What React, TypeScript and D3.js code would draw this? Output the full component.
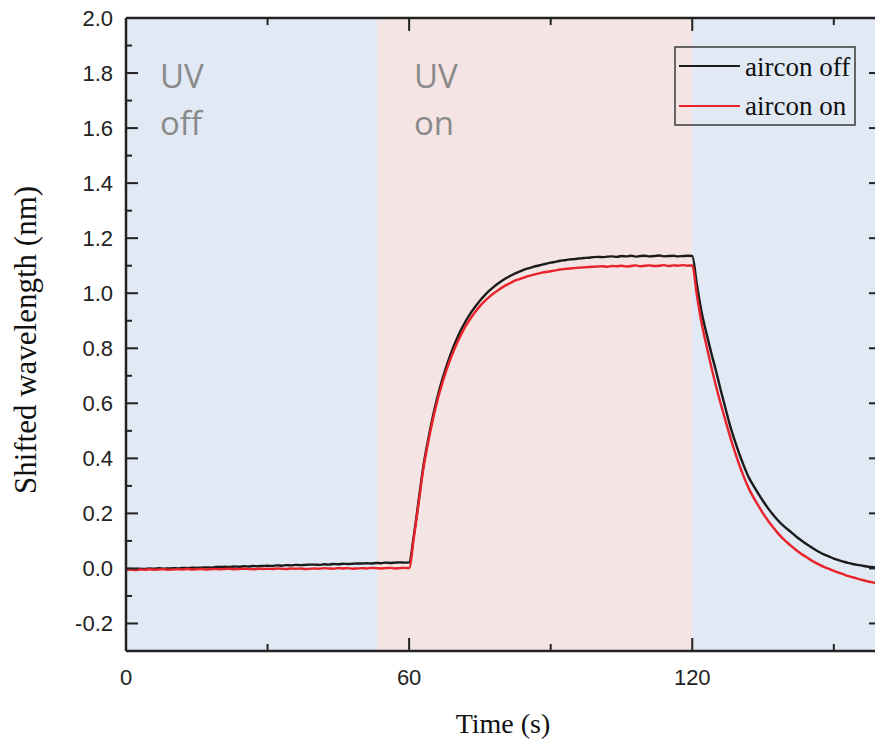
import React from "react";
import * as d3 from "d3";

// Sample times (s), one reading per second
const timeSec: number[] = d3.range(0, 161);

// Shifted wavelength (nm), aircon off
const airconOff: number[] = [
  -0.003, -0.002, -0.003, -0.001, -0.002, 0.0, -0.001, 0.001, -0.001, 0.0,
  0.001, 0.0, 0.002, 0.001, 0.003, 0.002, 0.003, 0.004, 0.003, 0.005,
  0.005, 0.006, 0.005, 0.007, 0.006, 0.008, 0.007, 0.009, 0.008, 0.009,
  0.01, 0.009, 0.011, 0.01, 0.012, 0.011, 0.013, 0.012, 0.013, 0.014,
  0.014, 0.013, 0.015, 0.014, 0.016, 0.015, 0.017, 0.016, 0.017, 0.018,
  0.018, 0.019, 0.018, 0.02, 0.019, 0.021, 0.02, 0.021, 0.022, 0.021,
  0.022,
  0.12, 0.245, 0.37, 0.465, 0.55, 0.623, 0.685, 0.74, 0.788, 0.83,
  0.867, 0.899, 0.927, 0.951, 0.973, 0.992, 1.009, 1.024, 1.037, 1.049,
  1.059, 1.068, 1.076, 1.083, 1.089, 1.094, 1.099, 1.103, 1.107, 1.111,
  1.114, 1.118, 1.12, 1.123, 1.124, 1.126, 1.128, 1.129, 1.131, 1.132,
  1.131, 1.133, 1.134, 1.132, 1.135, 1.134, 1.136, 1.133, 1.135, 1.136,
  1.134, 1.135, 1.137, 1.134, 1.135, 1.136, 1.134, 1.135, 1.136, 1.135,
  1.03, 0.93, 0.855, 0.785, 0.72, 0.65, 0.585, 0.52, 0.465, 0.415,
  0.37, 0.33, 0.3, 0.272, 0.245, 0.22, 0.198, 0.178, 0.16, 0.145,
  0.131, 0.116, 0.103, 0.091, 0.08, 0.069, 0.059, 0.05, 0.043, 0.036,
  0.03, 0.025, 0.02, 0.016, 0.013, 0.01, 0.007, 0.005, 0.003, 0.002,
];

// Shifted wavelength (nm), aircon on
const airconOn: number[] = [
  -0.005, -0.004, -0.006, -0.004, -0.005, -0.003, -0.005, -0.004, -0.003, -0.005,
  -0.004, -0.003, -0.004, -0.002, -0.004, -0.003, -0.002, -0.004, -0.003, -0.002,
  -0.003, -0.002, -0.001, -0.003, -0.002, -0.001, -0.002, -0.003, -0.001, -0.002,
  -0.001, -0.002, 0.0, -0.001, -0.002, 0.0, -0.001, 0.0, -0.002, -0.001,
  0.0, -0.001, 0.001, 0.0, -0.001, 0.001, 0.0, 0.001, -0.001, 0.0,
  0.001, 0.0, 0.002, 0.001, 0.0, 0.001, 0.002, 0.0, 0.001, 0.002,
  0.001,
  0.11, 0.235, 0.36, 0.455, 0.538, 0.61, 0.671, 0.725, 0.772, 0.813,
  0.849, 0.881, 0.908, 0.932, 0.953, 0.971, 0.987, 1.001, 1.013, 1.024,
  1.033, 1.042, 1.049, 1.055, 1.061, 1.066, 1.07, 1.074, 1.077, 1.08,
  1.083, 1.086, 1.088, 1.09, 1.091, 1.093, 1.094, 1.095, 1.096, 1.097,
  1.098, 1.096, 1.099, 1.098, 1.1, 1.097, 1.099, 1.101, 1.098, 1.1,
  1.101, 1.099, 1.1, 1.102, 1.099, 1.101, 1.1, 1.102, 1.1, 1.101,
  0.99, 0.89, 0.81, 0.735, 0.665, 0.6, 0.54, 0.48, 0.425, 0.375,
  0.33, 0.29, 0.257, 0.228, 0.2, 0.175, 0.152, 0.131, 0.112, 0.096,
  0.081, 0.067, 0.054, 0.043, 0.032, 0.022, 0.013, 0.005, -0.002, -0.009,
  -0.015, -0.021, -0.027, -0.032, -0.037, -0.042, -0.046, -0.05, -0.053, -0.056,
];

// Axis ticks
const xMajorTicks: number[] = [0, 60, 120];
const xTickLabels: string[] = ["0", "60", "120"];
const xMinorTicks: number[] = [30, 90, 150];
const yMajorTicks: number[] = [-0.2, 0.0, 0.2, 0.4, 0.6, 0.8, 1.0, 1.2, 1.4, 1.6, 1.8, 2.0];
const yTickLabels: string[] = ["-0.2", "0.0", "0.2", "0.4", "0.6", "0.8", "1.0", "1.2", "1.4", "1.6", "1.8", "2.0"];
const yMinorTicks: number[] = [-0.1, 0.1, 0.3, 0.5, 0.7, 0.9, 1.1, 1.3, 1.5, 1.7, 1.9];

// UV exposure phases (s)
const phaseStarts: number[] = [0, 53.2, 120];
const phaseEnds: number[] = [53.2, 120, 160];
const phaseUvOn: boolean[] = [false, true, false];

const seriesNames: string[] = ["aircon off", "aircon on"];
const seriesColors: string[] = ["#1b1b1b", "#e8232a"];

const W = 875;
const H = 743;
const left = 126;
const right = 881;
const top = 18;
const bottom = 651;

export default function App() {
  const x = d3.scaleLinear().domain([0, 160]).range([left, right]);
  const y = d3.scaleLinear().domain([-0.3, 2.0]).range([bottom, top]);

  const line = d3
    .line<number>()
    .x((_, i) => x(timeSec[i]))
    .y((d) => y(d))
    .curve(d3.curveMonotoneX);

  const axisColor = "#222";
  const sans = "'Liberation Sans', Arial, sans-serif";
  const serif = "'Liberation Serif', 'Times New Roman', serif";
  const uvFont = "'Open Sans', 'Noto Sans', sans-serif";

  return (
    <svg
      width={W}
      height={H}
      style={{ position: "absolute", left: 0, top: 0, background: "#fff" }}
    >
      <defs>
        <clipPath id="plot-area">
          <rect x={left} y={top} width={right - left} height={bottom - top} />
        </clipPath>
      </defs>

      {/* phase backgrounds */}
      {phaseStarts.map((s, i) => (
        <rect
          key={`ph${i}`}
          x={x(s)}
          y={top}
          width={x(phaseEnds[i]) - x(s)}
          height={bottom - top}
          fill={phaseUvOn[i] ? "#f5e4e4" : "#e1e9f4"}
        />
      ))}

      {/* phase annotations */}
      <g fill="#8a8a8a" fontFamily={uvFont} fontSize={33}>
        <text x={160} y={88}>UV</text>
        <text x={160} y={135}>off</text>
        <text x={414} y={88}>UV</text>
        <text x={414} y={135}>on</text>
      </g>

      {/* series */}
      <g clipPath="url(#plot-area)" fill="none" strokeWidth={2.4} strokeLinejoin="round">
        <path d={line(airconOff) ?? ""} stroke={seriesColors[0]} />
        <path d={line(airconOn) ?? ""} stroke={seriesColors[1]} />
      </g>

      {/* frame */}
      <g stroke={axisColor} strokeWidth={2.5} fill="none">
        <line x1={left} y1={top} x2={left} y2={bottom} />
        <line x1={left} y1={bottom} x2={right} y2={bottom} />
        <line x1={left} y1={top} x2={right} y2={top} />
        <line x1={right} y1={top} x2={right} y2={bottom} />
      </g>

      {/* ticks */}
      <g stroke={axisColor} strokeWidth={2}>
        {xMajorTicks.map((t) => (
          <g key={`xM${t}`}>
            <line x1={x(t)} x2={x(t)} y1={bottom} y2={bottom - 13} />
            <line x1={x(t)} x2={x(t)} y1={top} y2={top + 13} />
          </g>
        ))}
        {xMinorTicks.map((t) => (
          <g key={`xm${t}`}>
            <line x1={x(t)} x2={x(t)} y1={bottom} y2={bottom - 7} />
            <line x1={x(t)} x2={x(t)} y1={top} y2={top + 7} />
          </g>
        ))}
        {yMajorTicks.map((t) => (
          <g key={`yM${t}`}>
            <line x1={left} x2={left + 12} y1={y(t)} y2={y(t)} />
            <line x1={right} x2={right - 12} y1={y(t)} y2={y(t)} />
          </g>
        ))}
        {yMinorTicks.map((t) => (
          <g key={`ym${t}`}>
            <line x1={left} x2={left + 6} y1={y(t)} y2={y(t)} />
            <line x1={right} x2={right - 6} y1={y(t)} y2={y(t)} />
          </g>
        ))}
      </g>

      {/* tick labels */}
      <g fill={axisColor} fontFamily={sans} fontSize={22}>
        {xMajorTicks.map((t, i) => (
          <text key={`xl${t}`} x={x(t)} y={685} textAnchor="middle">
            {xTickLabels[i]}
          </text>
        ))}
        {yMajorTicks.map((t, i) => (
          <text key={`yl${t}`} x={113} y={y(t)} dy="0.36em" textAnchor="end">
            {yTickLabels[i]}
          </text>
        ))}
      </g>

      {/* axis titles */}
      <text
        x={503}
        y={733}
        textAnchor="middle"
        fontFamily={serif}
        fontSize={28}
        fill="#111"
      >
        Time (s)
      </text>
      <text
        transform="translate(36,340) rotate(-90)"
        textAnchor="middle"
        fontFamily={serif}
        fontSize={31}
        fill="#111"
      >
        Shifted wavelength (nm)
      </text>

      {/* legend */}
      <g>
        <rect x={675} y={47} width={180} height={78} fill="none" stroke="#444" strokeWidth={1.6} />
        {seriesNames.map((name, i) => (
          <g key={name}>
            <line
              x1={679}
              x2={740}
              y1={66 + i * 40}
              y2={66 + i * 40}
              stroke={seriesColors[i]}
              strokeWidth={2.2}
            />
            <text x={745} y={76 + i * 39} fontFamily={serif} fontSize={27} fill="#111">
              {name}
            </text>
          </g>
        ))}
      </g>
    </svg>
  );
}
